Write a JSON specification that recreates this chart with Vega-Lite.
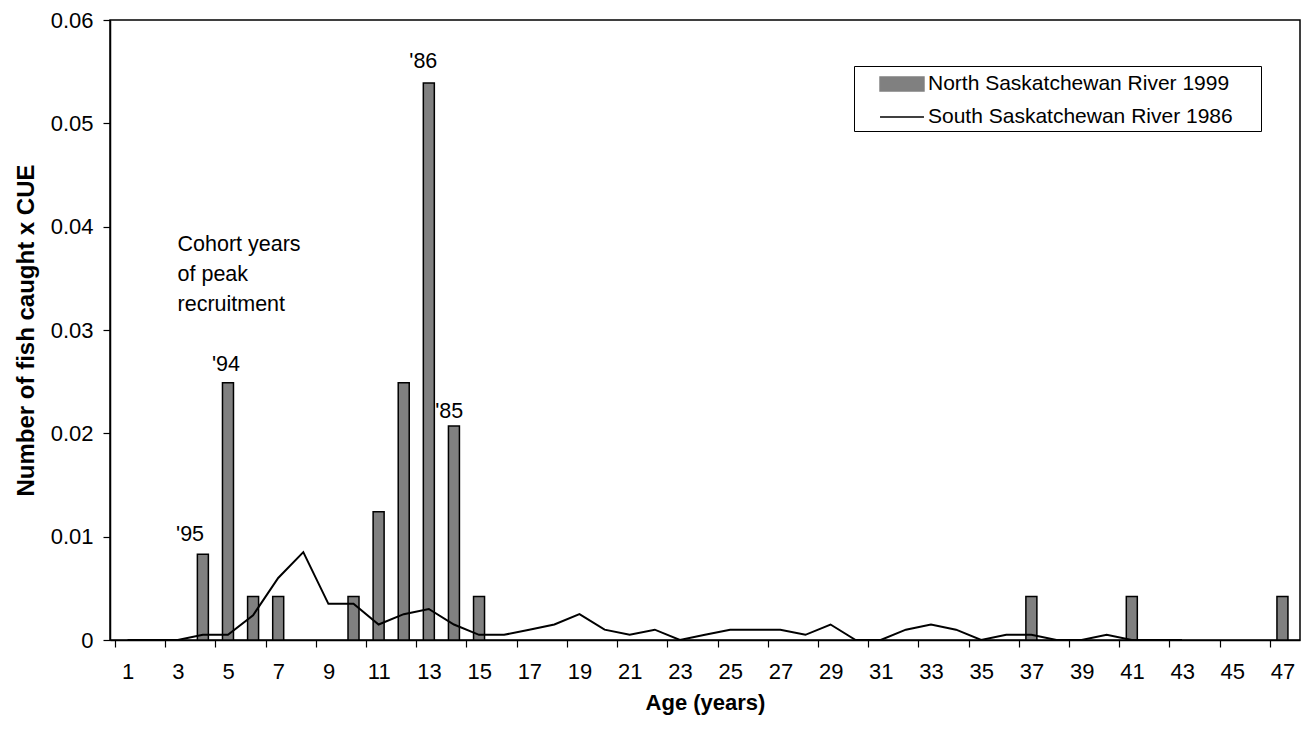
{
  "$schema": "https://vega.github.io/schema/vega-lite/v6.json",
  "width": 1190,
  "height": 620,
  "autosize": {"type": "none"},
  "padding": {"left": 110, "top": 20, "right": 12, "bottom": 89},
  "background": "white",
  "config": {
    "view": {"stroke": "black", "strokeWidth": 1.5},
    "font": "Liberation Sans",
    "axis": {
      "grid": false,
      "domainColor": "black",
      "domainWidth": 1.5,
      "tickColor": "black",
      "tickWidth": 1.2,
      "labelColor": "black",
      "titleColor": "black",
      "labelFont": "Liberation Sans",
      "labelFontSize": 22,
      "titleFont": "Liberation Sans",
      "titleFontSize": 22,
      "titleFontWeight": "bold"
    }
  },
  "datasets": {
    "ages": [
      {"age": 1, "north": 0, "south": 0},
      {"age": 2, "north": 0, "south": 0},
      {"age": 3, "north": 0, "south": 0},
      {"age": 4, "north": 0.0083, "south": 0.0005},
      {"age": 5, "north": 0.0249, "south": 0.0005},
      {"age": 6, "north": 0.0042, "south": 0.0024},
      {"age": 7, "north": 0.0042, "south": 0.006},
      {"age": 8, "north": 0, "south": 0.0085},
      {"age": 9, "north": 0, "south": 0.0035},
      {"age": 10, "north": 0.0042, "south": 0.0035},
      {"age": 11, "north": 0.0124, "south": 0.0015},
      {"age": 12, "north": 0.0249, "south": 0.0025},
      {"age": 13, "north": 0.0539, "south": 0.003},
      {"age": 14, "north": 0.0207, "south": 0.0015},
      {"age": 15, "north": 0.0042, "south": 0.0005},
      {"age": 16, "north": 0, "south": 0.0005},
      {"age": 17, "north": 0, "south": 0.001},
      {"age": 18, "north": 0, "south": 0.0015},
      {"age": 19, "north": 0, "south": 0.0025},
      {"age": 20, "north": 0, "south": 0.001},
      {"age": 21, "north": 0, "south": 0.0005},
      {"age": 22, "north": 0, "south": 0.001},
      {"age": 23, "north": 0, "south": 0},
      {"age": 24, "north": 0, "south": 0.0005},
      {"age": 25, "north": 0, "south": 0.001},
      {"age": 26, "north": 0, "south": 0.001},
      {"age": 27, "north": 0, "south": 0.001},
      {"age": 28, "north": 0, "south": 0.0005},
      {"age": 29, "north": 0, "south": 0.0015},
      {"age": 30, "north": 0, "south": 0},
      {"age": 31, "north": 0, "south": 0},
      {"age": 32, "north": 0, "south": 0.001},
      {"age": 33, "north": 0, "south": 0.0015},
      {"age": 34, "north": 0, "south": 0.001},
      {"age": 35, "north": 0, "south": 0},
      {"age": 36, "north": 0, "south": 0.0005},
      {"age": 37, "north": 0.0042, "south": 0.0005},
      {"age": 38, "north": 0, "south": 0},
      {"age": 39, "north": 0, "south": 0},
      {"age": 40, "north": 0, "south": 0.0005},
      {"age": 41, "north": 0.0042, "south": 0},
      {"age": 42, "north": 0, "south": 0},
      {"age": 43, "north": 0, "south": 0},
      {"age": 44, "north": 0, "south": null},
      {"age": 45, "north": 0, "south": null},
      {"age": 46, "north": 0, "south": null},
      {"age": 47, "north": 0.0042, "south": null}
    ],
    "years": [
      {"x": 3.49, "y": 0.0102, "label": "'95"},
      {"x": 4.92, "y": 0.0266, "label": "'94"},
      {"x": 12.78, "y": 0.0559, "label": "'86"},
      {"x": 13.81, "y": 0.0221, "label": "'85"}
    ],
    "cohort": [
      {"x": 2.99, "y": 0.0393, "label": "Cohort years\nof peak\nrecruitment"}
    ]
  },
  "layer": [
    {
      "data": {"name": "ages"},
      "transform": [{"filter": "datum.north > 0"}],
      "mark": {"type": "bar", "size": 11, "stroke": "black", "strokeWidth": 1.5},
      "encoding": {
        "x": {
          "field": "age",
          "type": "quantitative",
          "title": "Age (years)",
          "scale": {"domain": [0.5, 47.5], "nice": false, "zero": false},
          "axis": {
            "values": [0.5,1.5,2.5,3.5,4.5,5.5,6.5,7.5,8.5,9.5,10.5,11.5,12.5,13.5,14.5,15.5,16.5,17.5,18.5,19.5,20.5,21.5,22.5,23.5,24.5,25.5,26.5,27.5,28.5,29.5,30.5,31.5,32.5,33.5,34.5,35.5,36.5,37.5,38.5,39.5,40.5,41.5,42.5,43.5,44.5,45.5,46.5,47.5],
            "labelExpr": "(datum.value + 0.5) % 2 == 1 ? format(datum.value + 0.5, 'd') : ''",
            "labelOffset": 12.66,
            "labelOverlap": false,
            "labelFlush": false,
            "tickSize": 7,
            "labelPadding": 14,
            "titlePadding": 10
          }
        },
        "y": {
          "field": "north",
          "type": "quantitative",
          "title": "Number of fish caught x CUE",
          "scale": {"domain": [0, 0.06], "nice": false, "zero": true},
          "axis": {
            "values": [0, 0.01, 0.02, 0.03, 0.04, 0.05, 0.06],
            "labelExpr": "datum.value == 0 ? '0' : format(datum.value, '.2f')",
            "tickSize": 7,
            "labelPadding": 10,
            "titleFontSize": 24,
            "titlePadding": 12
          }
        },
        "color": {
          "datum": "North Saskatchewan River 1999",
          "scale": {"domain": ["North Saskatchewan River 1999", "South Saskatchewan River 1986"], "range": ["#808080", "black"]},
          "legend": {
            "orient": "none",
            "legendX": 744,
            "legendY": 46,
            "title": "\u2014",
            "titleOrient": "right",
            "titleFontSize": 23,
            "titlePadding": 1,
            "titleOpacity": 0,
            "strokeColor": "black",
            "fillColor": "white",
            "padding": 4,
            "labelFont": "Liberation Sans",
            "labelFontSize": 21,
            "labelColor": "black",
            "labelLimit": 600,
            "symbolSize": 676,
            "rowPadding": 8,
            "symbolOffset": 30,
            "labelOffset": 12,
            "encoding": {
              "symbols": {
                "shape": {"condition": {"test": "datum.value == 'North Saskatchewan River 1999'", "value": "M-1.69,-0.54H1.69V0.54H-1.69Z"}, "value": "M-1.69,0H1.69"},
                "fill": {"condition": {"test": "datum.value == 'North Saskatchewan River 1999'", "value": "#808080"}, "value": "transparent"},
                "stroke": {"value": "black"},
                "strokeWidth": {"value": 1.5},
                "opacity": {"value": 1}
              }
            }
          }
        }
      }
    },
    {
      "data": {"name": "ages"},
      "transform": [{"filter": "isValid(datum.south)"}],
      "mark": {"type": "line", "strokeWidth": 2},
      "encoding": {
        "x": {"field": "age", "type": "quantitative", "title": "Age (years)"},
        "y": {"field": "south", "type": "quantitative", "title": "Number of fish caught x CUE"},
        "color": {"datum": "South Saskatchewan River 1986"}
      }
    },
    {
      "data": {"name": "years"},
      "mark": {"type": "text", "fontSize": 21.5, "font": "Liberation Sans", "align": "center", "baseline": "middle", "color": "black"},
      "encoding": {
        "x": {"field": "x", "type": "quantitative", "title": "Age (years)"},
        "y": {"field": "y", "type": "quantitative", "title": "Number of fish caught x CUE"},
        "text": {"field": "label"}
      }
    },
    {
      "data": {"name": "cohort"},
      "mark": {"type": "text", "fontSize": 21.5, "font": "Liberation Sans", "align": "left", "baseline": "top", "lineBreak": "\n", "lineHeight": 30, "color": "black"},
      "encoding": {
        "x": {"field": "x", "type": "quantitative", "title": "Age (years)"},
        "y": {"field": "y", "type": "quantitative", "title": "Number of fish caught x CUE"},
        "text": {"field": "label"}
      }
    }
  ]
}
